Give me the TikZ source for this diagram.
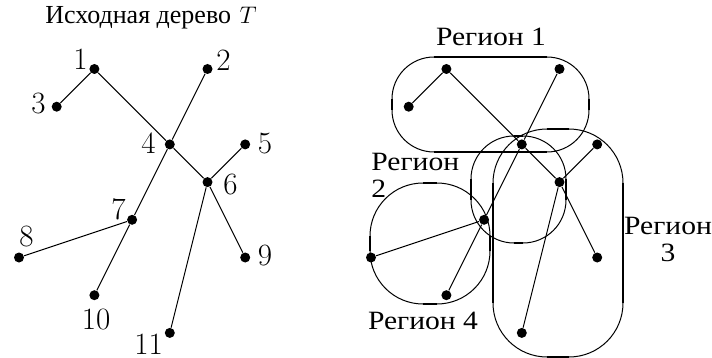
\documentclass[tikz,border=0pt]{standalone}
\usepackage{fontspec}
\newfontfamily\cyr{Liberation Serif}
\newfontfamily\cyrwide[FakeStretch=1.12]{Liberation Serif}
\begin{document}
\begin{tikzpicture}[x=0.5pt,y=-0.5pt,
  dot/.style={circle,fill=black,inner sep=0pt,minimum size=5pt},
  edge/.style={line width=0.5pt},
  lbl/.style={font=\fontsize{15.5}{18}\selectfont,inner sep=0pt},
  rtext/.style={font=\fontsize{13.2}{13.5}\selectfont\cyrwide,inner sep=0pt},
  arcline/.style={line width=0.5pt},
  flat/.style={line width=1.3pt}]
\useasboundingbox (0,0) rectangle (712,358);
% tree nodes (left = original tree, right = copy)
\foreach \n/\c/\r in {1/2/0,2/5/0,3/1/1,4/4/2,5/6/2,6/5/3,7/3/4,8/0/5,9/6/5,10/2/6,11/4/7}{
  \node[dot] (L\n) at ({19+37.7*\c},{69+37.7*\r}) {};
  \node[dot] (R\n) at ({371+37.7*\c},{69+37.7*\r}) {};
}
\foreach \a/\b in {1/3,1/4,4/2,4/6,6/5,4/7,7/8,7/10,6/9,6/11}{
  \draw[edge] (L\a) -- (L\b);
  \draw[edge] (R\a) -- (R\b);
}
% labels of the left tree
\node[lbl] (n1) at (80.5,59) {1};
\node[lbl] (n2) at (223.5,60) {2};
\node[lbl] (n3) at (38.5,104) {3};
\node[lbl] (n4) at (148.5,143) {4};
\node[lbl] (n5) at (265,144) {5};
\node[lbl] (n6) at (230.5,185) {6};
\node[lbl] (n7) at (118.5,209) {7};
\node[lbl] (n8) at (26.5,237) {8};
\node[lbl] (n9) at (265,256) {9};
\node[lbl] (n10) at (96,320) {10};
\node[lbl] (n11) at (148.5,344) {11};
\node[font=\fontsize{13}{14}\selectfont,inner sep=0pt] (title) at (151,18) {{\cyr Исходная дерево} $T$};
% regions
% region 1
\draw[arcline,rounded corners=21pt] (392,57) rectangle (589,152);
\draw[flat] (434,57) -- (547,57);
\draw[flat] (434,152) -- (547,152);
\draw[flat] (392,99) -- (392,110);
\draw[flat] (589,99) -- (589,110);
% central box
\draw[arcline,rounded corners=21.5pt] (471,136) rectangle (566,243);
\draw[flat] (514,136) -- (523,136);
\draw[flat] (514,243) -- (523,243);
\draw[flat] (471,179) -- (471,200);
\draw[flat] (566,179) -- (566,200);
% left circle box
\draw[arcline,rounded corners=26.5pt] (370,183) rectangle (490,304);
\draw[flat] (423,183) -- (437,183);
\draw[flat] (423,304) -- (437,304);
\draw[flat] (370,236) -- (370,251);
\draw[flat] (490,236) -- (490,251);
% region 3
\draw[arcline,rounded corners=27pt] (493,129) rectangle (623,357);
\draw[flat] (547,129) -- (569,129);
\draw[flat] (547,357) -- (569,357);
\draw[flat] (493,183) -- (493,303);
\draw[flat] (623,183) -- (623,303);
% region labels
\node[rtext] (reg1) at (491,37) {Регион 1};
\node[rtext,align=left,anchor=north west] (reg2) at (371,153) {Регион\\2};
\node[rtext,align=center,anchor=north] (reg3) at (668,217) {Регион\\3};
\node[rtext] (reg4) at (423,321) {Регион 4};
\end{tikzpicture}
\end{document}
